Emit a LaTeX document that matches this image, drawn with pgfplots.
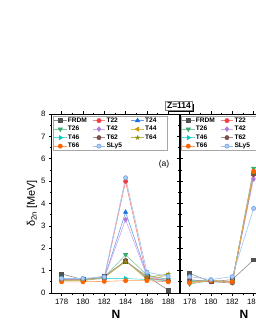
\documentclass[border=0pt]{standalone}
\usepackage{fontspec}
\setmainfont{Liberation Sans}
\usepackage{pgfplots}
\usepackage{pgfplotstable}
\pgfplotsset{compat=1.18}
\usetikzlibrary{shadows}

\definecolor{cFRDM}{HTML}{515151}
\definecolor{cT22}{HTML}{F14040}
\definecolor{cT24}{HTML}{1A6FDF}
\definecolor{cT26}{HTML}{37AD6B}
\definecolor{cT42}{HTML}{B177DE}
\definecolor{cT44}{HTML}{CC9900}
\definecolor{cT46}{HTML}{00CBCC}
\definecolor{cT62}{HTML}{7D4E4E}
\definecolor{cT64}{HTML}{8E8E00}
\definecolor{cT66}{HTML}{FB6501}
\definecolor{cSLy}{HTML}{6CA2EA}

\pgfplotstableread{
N   FRDM T22  T24  T26  T42  T44  T46  T62  T64  T66  SLy5
178 0.85 0.60 0.65 0.55 0.60 0.55 0.65 0.60 0.55 0.50 0.65
180 0.60 0.60 0.60 0.60 0.60 0.55 0.62 0.60 0.55 0.50 0.65
182 0.75 0.65 0.65 0.70 0.65 0.70 0.65 0.70 0.70 0.52 0.72
184 1.42 4.99 3.61 1.71 3.28 1.45 0.65 1.45 1.40 0.55 5.15
186 0.75 0.70 0.80 0.80 0.75 0.60 0.60 0.65 0.70 0.55 0.93
188 0.13 0.55 0.60 0.60 0.55 0.80 0.55 0.55 0.85 0.50 0.75
}\lefttab

\pgfplotstableread{
N   FRDM T22  T24  T26  T42  T44  T46  T62  T64  T66  SLy5
178 0.88 0.50 0.50 0.40 0.55 0.50 0.55 0.60 0.50 0.45 0.73
180 0.50 0.55 0.55 0.55 0.55 0.55 0.55 0.50 0.55 0.55 0.60
182 0.60 0.50 0.50 0.50 0.50 0.50 0.50 0.45 0.50 0.50 0.73
184 1.48 5.40 5.30 5.57 5.10 5.35 5.40 5.30 5.40 5.44 3.78
}\righttab

\newcommand{\LE}[1]{\makebox[21pt][l]{#1}}

\pgfplotsset{
  sFRDM/.style={draw=cFRDM!65, line width=0.6pt, mark=square*, mark size=1.9pt, mark options={draw=cFRDM, fill=cFRDM, solid}},
  sT22/.style={draw=cT22!65, line width=0.6pt, mark=*, mark size=2.1pt, mark options={draw=cT22, fill=cT22, solid}},
  sT24/.style={draw=cT24!65, line width=0.6pt, mark=triangle*, mark size=2.4pt, mark options={draw=cT24, fill=cT24, solid}},
  sT26/.style={draw=cT26!65, line width=0.6pt, mark=triangle*, mark size=2.4pt, mark options={draw=cT26, fill=cT26, solid, rotate=180}},
  sT42/.style={draw=cT42!65, line width=0.6pt, mark=diamond*, mark size=2.4pt, mark options={draw=cT42, fill=cT42, solid}},
  sT44/.style={draw=cT44!65, line width=0.6pt, mark=triangle*, mark size=2.4pt, mark options={draw=cT44, fill=cT44, solid, rotate=90}},
  sT46/.style={draw=cT46!65, line width=0.6pt, mark=triangle*, mark size=2.4pt, mark options={draw=cT46, fill=cT46, solid, rotate=-90}},
  sT62/.style={draw=cT62!65, line width=0.6pt, mark=*, mark size=2.1pt, mark options={draw=cT62, fill=cT62, solid}},
  sT64/.style={draw=cT64!65, line width=0.6pt, mark=star, mark size=2.3pt, mark options={draw=cT64, fill=cT64, solid, line width=0.9pt}},
  sT66/.style={draw=cT66!65, line width=0.6pt, mark=*, mark size=2.1pt, mark options={draw=cT66, fill=cT66, solid}},
  sSLy/.style={draw=cSLy!65, line width=0.6pt, mark=*, mark size=2.1pt, mark options={draw=cSLy, fill=cSLy!55, solid}},
  panel/.style={
    scale only axis, width=128pt, height=179pt, anchor=south west,
    xmin=177.1, xmax=189.1, ymin=0, ymax=8,
    xtick={178,180,...,188}, ytick={0,1,...,8},
    minor x tick num=1, minor y tick num=1,
    tick align=outside, major tick length=3pt, minor tick length=1.5pt,
    axis line style={line width=1pt},
    every tick/.style={black, line width=0.7pt},
    tick label style={font=\fontsize{7.8}{8}\selectfont},
    /pgf/number format/assume math mode=true,
    /pgf/number format/1000 sep={},
    xlabel={\bfseries N},
    xlabel style={font=\fontsize{12}{13}\selectfont, yshift=2pt},
    legend columns=3,
    legend image code/.code={\draw[mark repeat=2,mark phase=2] plot coordinates {(0cm,0cm) (0.22cm,0cm) (0.44cm,0cm)};},
    legend style={at={(0.008,0.99)}, anchor=north west,
      font=\bfseries\fontsize{6.6}{7}\selectfont,
      draw=gray!70, line width=0.5pt, inner sep=0.5pt,
      nodes={inner sep=1pt}, row sep=0.4pt,
      /tikz/every even column/.append style={column sep=2.5pt},
      cells={anchor=west}},
  }
}

\begin{document}
\begin{tikzpicture}
\begin{axis}[panel, at={(52pt,37pt)},
  ylabel={δ\textsubscript{2n} [MeV]},
  ylabel style={font=\fontsize{11}{12}\selectfont, yshift=-3pt}]
\addplot[sFRDM] table[x=N,y=FRDM]{\lefttab}; \addlegendentry{\LE{FRDM}}
\addplot[sT22] table[x=N,y=T22]{\lefttab}; \addlegendentry{\LE{T22}}
\addplot[sT24] table[x=N,y=T24]{\lefttab}; \addlegendentry{\LE{T24}}
\addplot[sT26] table[x=N,y=T26]{\lefttab}; \addlegendentry{\LE{T26}}
\addplot[sT42] table[x=N,y=T42]{\lefttab}; \addlegendentry{\LE{T42}}
\addplot[sT44] table[x=N,y=T44]{\lefttab}; \addlegendentry{\LE{T44}}
\addplot[sT46] table[x=N,y=T46]{\lefttab}; \addlegendentry{\LE{T46}}
\addplot[sT62] table[x=N,y=T62]{\lefttab}; \addlegendentry{\LE{T62}}
\addplot[sT64] table[x=N,y=T64]{\lefttab}; \addlegendentry{\LE{T64}}
\addplot[sT66] table[x=N,y=T66]{\lefttab}; \addlegendentry{\LE{T66}}
\addplot[sSLy] table[x=N,y=SLy5]{\lefttab}; \addlegendentry{\LE{SLy5}}
\node[font=\fontsize{8.5}{9}\selectfont] at (axis cs:187.6,5.75) {(a)};
\end{axis}
\begin{axis}[panel, at={(180pt,37pt)}, yticklabels={}]
\addplot[sFRDM] table[x=N,y=FRDM]{\righttab}; \addlegendentry{\LE{FRDM}}
\addplot[sT22] table[x=N,y=T22]{\righttab}; \addlegendentry{\LE{T22}}
\addplot[sT24] table[x=N,y=T24]{\righttab}; \addlegendentry{\LE{T24}}
\addplot[sT26] table[x=N,y=T26]{\righttab}; \addlegendentry{\LE{T26}}
\addplot[sT42] table[x=N,y=T42]{\righttab}; \addlegendentry{\LE{T42}}
\addplot[sT44] table[x=N,y=T44]{\righttab}; \addlegendentry{\LE{T44}}
\addplot[sT46] table[x=N,y=T46]{\righttab}; \addlegendentry{\LE{T46}}
\addplot[sT62] table[x=N,y=T62]{\righttab}; \addlegendentry{\LE{T62}}
\addplot[sT64] table[x=N,y=T64]{\righttab}; \addlegendentry{\LE{T64}}
\addplot[sT66] table[x=N,y=T66]{\righttab}; \addlegendentry{\LE{T66}}
\addplot[sSLy] table[x=N,y=SLy5]{\righttab}; \addlegendentry{\LE{SLy5}}
\end{axis}
\node[draw=gray, line width=0.6pt, fill=white,
  drop shadow={shadow xshift=2pt, shadow yshift=-2pt, opacity=1, fill=black},
  font=\bfseries\fontsize{8.5}{9}\selectfont, inner sep=1.5pt] at (179pt,224pt) {Z=114};
\pgfresetboundingbox
\path[use as bounding box] (0pt,0pt) rectangle (255pt,330pt);
\end{tikzpicture}
\end{document}
